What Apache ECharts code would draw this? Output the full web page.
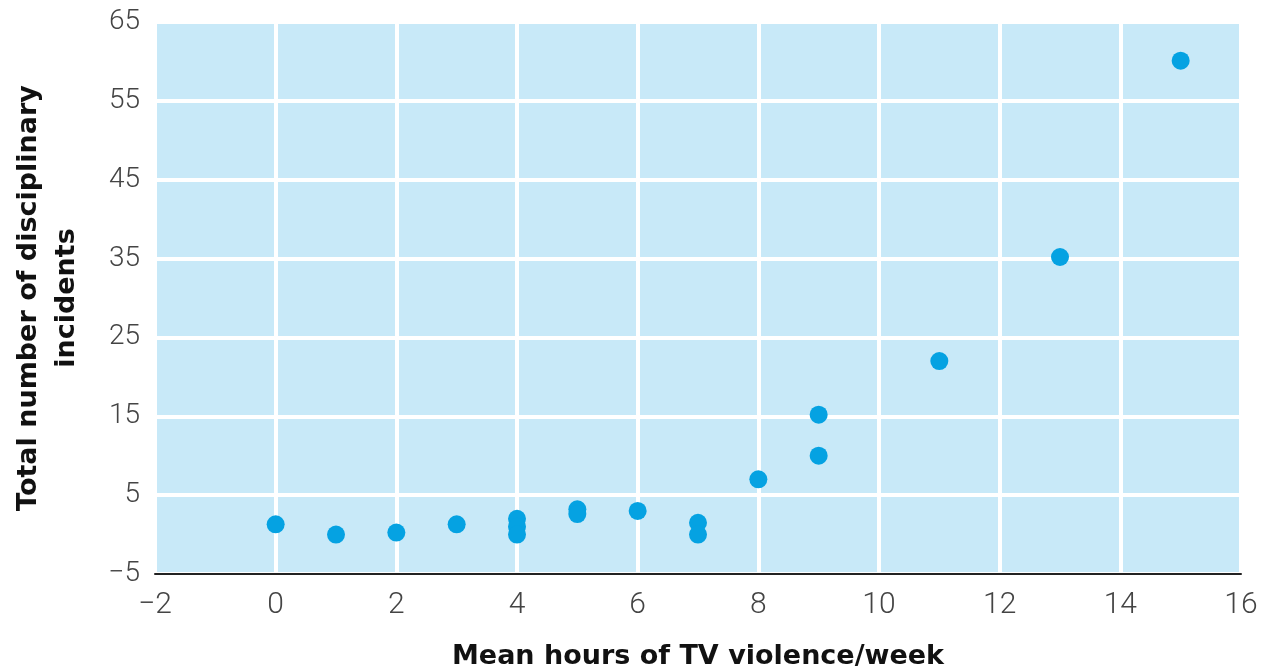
<!DOCTYPE html>
<html>
<head>
<meta charset="utf-8">
<script src="https://cdn.jsdelivr.net/npm/echarts@6/dist/echarts.min.js"></script>
<style>
html,body{margin:0;padding:0;background:#fff;}
#chart{width:1262px;height:670px;}
</style>
</head>
<body>
<div id="chart"></div>
<script>
// Data
const hoursTV = [0, 1, 2, 3, 4, 4, 4, 5, 5, 6, 7, 7, 8, 9, 9, 11, 13, 15];
const incidents = [1.3, 0, 0.25, 1.3, 2, 1, 0, 3.2, 2.6, 3, 1.5, 0, 7, 15.2, 10, 22, 35.2, 60.1];
const xAxisTitle = 'Mean hours of TV violence/week';
const yAxisTitle = 'Total number of disciplinary\nincidents';
const xTicks = {min: -2, max: 16, interval: 2};
const yTicks = {min: -5, max: 65, interval: 10};

const points = hoursTV.map((x, i) => [x, incidents[i]]);
const minusFmt = v => String(v).replace('-', '\u2212');

const chart = echarts.init(document.getElementById('chart'), null, {renderer: 'canvas'});
chart.setOption({
  animation: false,
  backgroundColor: '#ffffff',
  grid: {left: 155, right: 21, top: 22, bottom: 96, show: true, backgroundColor: '#c8e9f8', borderWidth: 0,
         containLabel: false, outerBoundsMode: 'none'},
  xAxis: {
    type: 'value',
    min: xTicks.min, max: xTicks.max, interval: xTicks.interval,
    name: xAxisTitle,
    nameLocation: 'middle',
    nameGap: 69,
    nameTextStyle: {fontFamily: 'DejaVu Sans, sans-serif', fontWeight: 'bold', fontSize: 27, color: '#111'},
    axisLine: {show: true, onZero: false, lineStyle: {color: '#222', width: 2}},
    axisTick: {show: false},
    axisLabel: {formatter: minusFmt, margin: 16, fontFamily: 'Roboto, Liberation Sans, sans-serif', fontWeight: 300, fontSize: 30, color: '#444'},
    splitLine: {show: true, lineStyle: {color: '#ffffff', width: 4}}
  },
  yAxis: {
    type: 'value',
    min: yTicks.min, max: yTicks.max, interval: yTicks.interval,
    name: yAxisTitle,
    nameLocation: 'middle',
    nameGap: 69,
    nameRotate: 90,
    nameTextStyle: {fontFamily: 'DejaVu Sans, sans-serif', fontWeight: 'bold', fontSize: 27, color: '#111', lineHeight: 38, align: 'center'},
    axisLine: {show: false},
    axisTick: {show: false},
    axisLabel: {formatter: minusFmt, margin: 15, fontFamily: 'Roboto, Liberation Sans, sans-serif', fontWeight: 300, fontSize: 28, color: '#444'},
    splitLine: {show: true, lineStyle: {color: '#ffffff', width: 4}}
  },
  series: [{
    type: 'scatter',
    data: points,
    symbol: 'circle',
    symbolSize: 18,
    itemStyle: {color: '#05a2e2', opacity: 1}
  }]
});
</script>
</body>
</html>
